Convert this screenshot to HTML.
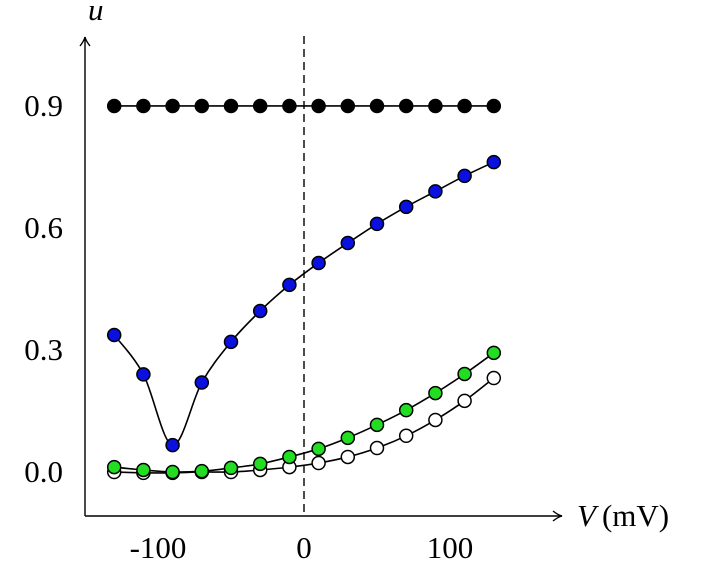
<!DOCTYPE html>
<html><head><meta charset="utf-8"><style>
html,body{margin:0;padding:0;background:#fff;}
svg{display:block;font-family:"Liberation Serif",serif;}
</style></head><body>
<svg id="chart" width="709" height="574" viewBox="0 0 709 574" xmlns="http://www.w3.org/2000/svg">
<defs><marker id="arr" markerWidth="12" markerHeight="12" refX="10" refY="6" orient="auto" markerUnits="userSpaceOnUse"><path d="M1,1 Q6,5 10,6 Q6,7 1,11" fill="none" stroke="#000" stroke-width="1.4"/></marker></defs>
<g id="plot"></g>
</svg>
<script>
const voltages=[-130,-110,-90,-70,-50,-30,-10,10,30,50,70,90,110,130];
const seriesBlack=[0.9,0.9,0.9,0.9,0.9,0.9,0.9,0.9,0.9,0.9,0.9,0.9,0.9,0.9];
const seriesBlue=[0.337,0.24,0.066,0.22,0.32,0.396,0.46,0.514,0.563,0.61,0.652,0.69,0.728,0.762];
const seriesGreen=[0.012,0.005,0.0,0.002,0.01,0.02,0.037,0.057,0.084,0.116,0.152,0.194,0.241,0.293];
const seriesWhite=[0.0,-0.002,-0.002,0.0,0.0,0.005,0.012,0.022,0.037,0.059,0.089,0.128,0.175,0.231];
const xTicks=[-100,0,100];
const yTicks=[0.0,0.3,0.6,0.9];
const yTickLabels=["0.0","0.3","0.6","0.9"];

const NS="http://www.w3.org/2000/svg";
const g=document.getElementById('plot');
const X=v=>304+v*1.46;
const Y=u=>472-u*406.7;
function mk(t,a){const e=document.createElementNS(NS,t);for(const k in a)e.setAttribute(k,a[k]);g.appendChild(e);return e;}

let ax=mk('line',{x1:85,y1:516,x2:562,y2:516,stroke:'#000','stroke-width':1.4,'marker-end':'url(#arr)'});


let ay=mk('line',{x1:85,y1:516,x2:85,y2:37,stroke:'#000','stroke-width':1.4,'marker-end':'url(#arr)'});


let dl=mk('line',{x1:X(0),y1:36,x2:X(0),y2:516,stroke:'#000','stroke-width':1.4,'stroke-dasharray':'8,5'});



xTicks.forEach(v=>{
  const t=mk('text',{x:X(v),y:558,'font-size':31,'text-anchor':'middle'});
  t.textContent=v<0?'-'+Math.abs(v):String(v);
  
  
});
yTicks.forEach((v,i)=>{
  const t=mk('text',{x:63,y:Y(v)+10,'font-size':31,'text-anchor':'end'});
  t.textContent=yTickLabels[i];
  
  
});
let yl=mk('text',{x:88,y:20,'font-size':31,'font-style':'italic'});
yl.textContent='u';


let xl=mk('text',{x:577,y:526,'font-size':31});
xl.innerHTML='<tspan font-style="italic">V</tspan><tspan dx="6">(mV)</tspan>';



function curve(vals){
  const p=vals.map((u,i)=>[X(voltages[i]),Y(u)]);
  let d='M'+p[0][0]+','+p[0][1];
  for(let i=0;i<p.length-1;i++){
    const p0=p[Math.max(0,i-1)],p1=p[i],p2=p[i+1],p3=p[Math.min(p.length-1,i+2)];
    const c1=[p1[0]+(p2[0]-p0[0])/6,p1[1]+(p2[1]-p0[1])/6];
    const c2=[p2[0]-(p3[0]-p1[0])/6,p2[1]-(p3[1]-p1[1])/6];
    d+=` C${c1[0]},${c1[1]} ${c2[0]},${c2[1]} ${p2[0]},${p2[1]}`;
  }
  return d;
}
function series(vals,fill,name){
  const l=mk('path',{d:curve(vals),fill:'none',stroke:'#000','stroke-width':1.6});
  
  
  vals.forEach((u,i)=>{
    const c=mk('circle',{cx:X(voltages[i]),cy:Y(u),r:6.5,fill:fill,stroke:'#000','stroke-width':1.5});
    
    
  });
}
series(seriesWhite,'#fff','white-series');
series(seriesGreen,'#22dd22','green-series');
series(seriesBlue,'#0a10e0','blue-series');
series(seriesBlack,'#000','black-series');
</script>
</body></html>
